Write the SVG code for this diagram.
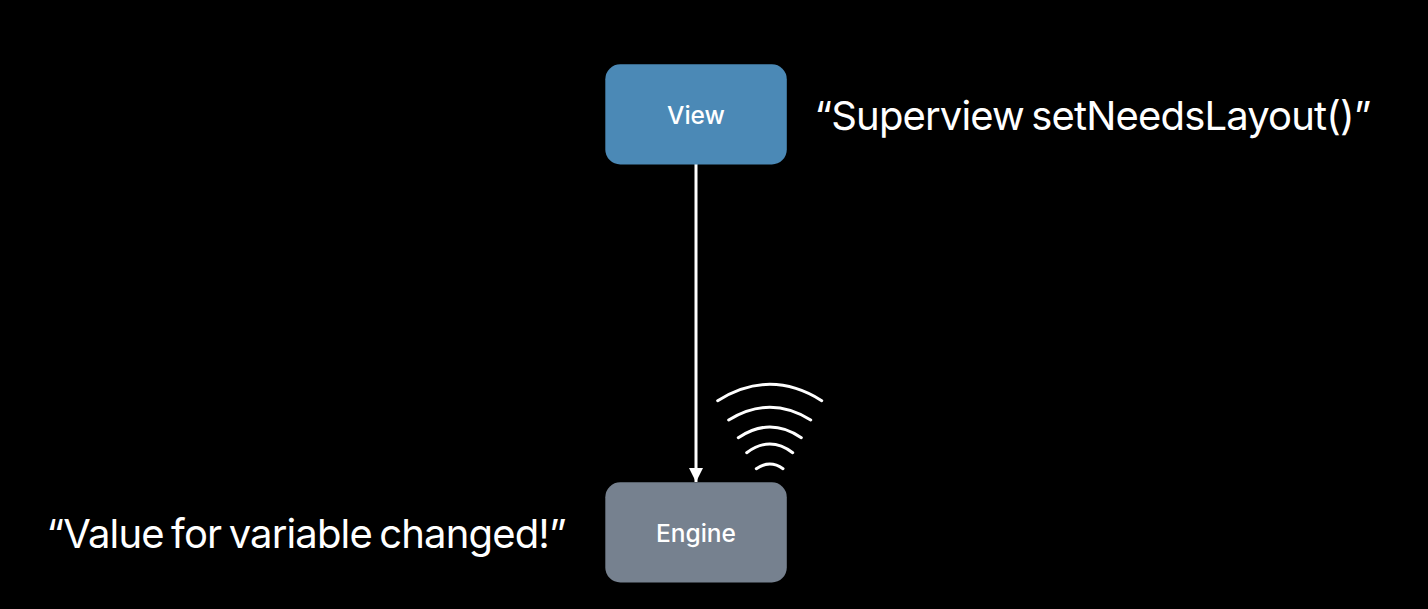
<svg xmlns="http://www.w3.org/2000/svg" width="1428" height="609" viewBox="0 0 1428 609">
<style>
.lbl{font-family:Inter,"Liberation Sans",sans-serif;fill:#fff}
.n{font-size:24.5px;text-anchor:middle;font-weight:500}
.q{font-size:40px;letter-spacing:-0.85px;word-spacing:-3px}
.w{fill:none;stroke:#fff;stroke-width:3;stroke-linecap:round}
</style>
<defs><marker id="a" markerUnits="userSpaceOnUse" markerWidth="14" markerHeight="14" refX="14" refY="7" orient="auto"><path d="M0 0L14 7L0 14Z" fill="#fff"/></marker></defs>
<rect width="1428" height="609" fill="#000"/>
<g id="connectors"><line x1="696" y1="164" x2="696" y2="482" stroke="#fff" stroke-width="3" marker-end="url(#a)"/></g>
<g id="view"><rect x="605.3" y="64.3" width="181.5" height="100.2" rx="15" fill="#4b89b6"/><text class="lbl n" x="696" y="123.5">View</text></g>
<g id="engine"><rect x="605.3" y="482.3" width="181.5" height="100.2" rx="15" fill="#76818f"/><text class="lbl n" x="696" y="541.5">Engine</text></g>
<g id="waves"><path class="w" d="M717.7 400.7Q770 368 821.7 400.7"/><path class="w" d="M728.7 420Q770 394.6 810.7 420"/><path class="w" d="M738.3 437.7Q770 416.3 801.3 437.7"/><path class="w" d="M746.7 452.7Q770 435.3 792.7 452.7"/><path class="w" d="M756.3 468.7Q770 459.3 783 468.7"/></g>
<text class="lbl q" x="814.5" y="130">“Superview setNeedsLayout()”</text>
<text class="lbl q" x="46.5" y="548">“Value for variable changed!”</text>
</svg>
